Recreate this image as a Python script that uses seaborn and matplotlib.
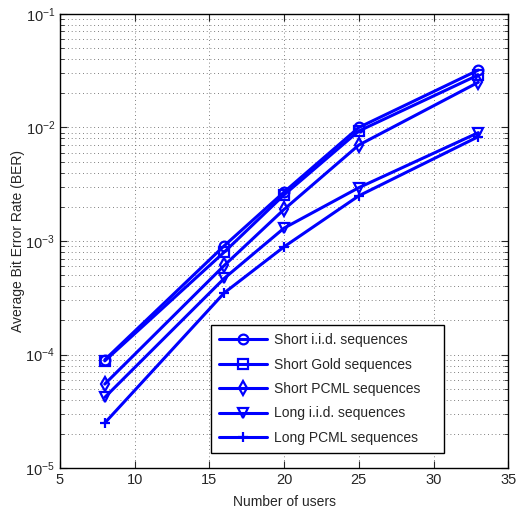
import matplotlib

matplotlib.use("Agg")
import matplotlib.pyplot as plt
import matplotlib.ticker as mticker
import pandas as pd
import seaborn as sns

users = [8, 16, 20, 25, 33]
short_iid = [9.0e-5, 9.1e-4, 2.7e-3, 1.0e-2, 3.2e-2]
short_gold = [8.8e-5, 8.0e-4, 2.55e-3, 9.3e-3, 2.9e-2]
short_pcml = [5.5e-5, 6.1e-4, 1.9e-3, 7.0e-3, 2.5e-2]
long_iid = [4.2e-5, 4.7e-4, 1.3e-3, 2.95e-3, 9.0e-3]
long_pcml = [2.5e-5, 3.5e-4, 8.9e-4, 2.5e-3, 8.3e-3]

series = {
    "Short i.i.d. sequences": (short_iid, "o"),
    "Short Gold sequences": (short_gold, "s"),
    "Short PCML sequences": (short_pcml, "d"),
    "Long i.i.d. sequences": (long_iid, "v"),
    "Long PCML sequences": (long_pcml, "+"),
}

sns.set_style("ticks")
plt.rcParams["font.family"] = ["Liberation Sans", "DejaVu Sans"]
plt.rcParams["mathtext.fontset"] = "custom"
plt.rcParams["mathtext.rm"] = "Liberation Sans"

BLUE = "#0000ff"

fig = plt.figure(figsize=(5.17, 5.15), dpi=100)
ax = fig.add_axes([0.116, 0.091, 0.867, 0.882])

for name, (vals, mk) in series.items():
    df = pd.DataFrame({"users": users, "ber": vals})
    sns.lineplot(data=df, x="users", y="ber", ax=ax, color=BLUE, lw=2.2,
                 marker=mk, markersize=7, markerfacecolor="none",
                 markeredgecolor=BLUE, markeredgewidth=1.6, label=name)

ax.set_yscale("log")
ax.set_xlim(5, 35)
ax.set_ylim(1e-5, 1e-1)
ax.set_xticks([5, 10, 15, 20, 25, 30, 35])
ax.yaxis.set_major_locator(mticker.LogLocator(base=10, numticks=10))
ax.yaxis.set_minor_locator(mticker.LogLocator(base=10, subs=range(2, 10), numticks=20))
ax.yaxis.set_minor_formatter(mticker.NullFormatter())

grid_kw = dict(color="#555555", lw=0.6, dashes=(1, 3.5))
ax.grid(True, which="major", **grid_kw)
ax.grid(True, which="minor", axis="y", **grid_kw)
ax.tick_params(which="both", direction="in", top=True, right=True, labelsize=10.5)
ax.tick_params(which="major", length=5)
ax.tick_params(which="minor", length=3)
for s in ax.spines.values():
    s.set_color("black")
    s.set_linewidth(1.0)

ax.set_xlabel("Number of users", fontsize=10, labelpad=6)
ax.set_ylabel("Average Bit Error Rate (BER)", fontsize=10, labelpad=0)

# legend box sized like the MATLAB one (wider than its text)
leg = ax.legend(loc="lower left", bbox_to_anchor=(0.337, 0.033, 0.52, 0.287),
                mode="expand", borderaxespad=0, fontsize=10, handlelength=3.4,
                handletextpad=0.5, fancybox=False, framealpha=1,
                edgecolor="black", borderpad=0.6, labelspacing=0.75)
leg.get_frame().set_linewidth(1.0)

fig.savefig("out.png", dpi=100)
